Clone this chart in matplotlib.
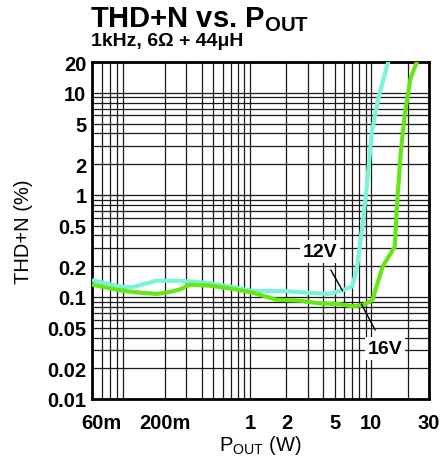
import matplotlib
matplotlib.use('Agg')
import matplotlib.pyplot as plt
import numpy as np

plt.rcParams['font.family'] = ['Liberation Sans', 'DejaVu Sans']
plt.rcParams['mathtext.fontset'] = 'custom'
plt.rcParams['mathtext.rm'] = 'Liberation Sans'
plt.rcParams['mathtext.bf'] = 'Liberation Sans:bold'

# data (POUT in W, THD+N in %)
p_12v = [0.05, 0.085, 0.109, 0.17, 0.264, 0.465, 0.72, 1.06, 2.0, 3.3, 4.5, 5.8, 7.0,
         7.7, 8.0, 8.5, 9.3, 10.1, 11.6, 14.1]
thd_12v = [0.146, 0.126, 0.125, 0.144, 0.144, 0.137, 0.125, 0.114, 0.114, 0.109, 0.107,
           0.116, 0.127, 0.206, 0.30, 0.52, 1.4, 4.1, 9.5, 22]

p_16v = [0.05, 0.085, 0.116, 0.17, 0.205, 0.264, 0.32, 0.465, 0.72, 1.06, 1.64, 2.56,
         3.73, 5.45, 7.0, 8.5, 10.2, 12.4, 15.6, 16.4, 17.5, 19.0, 21.1, 24.5]
thd_16v = [0.132, 0.116, 0.111, 0.107, 0.110, 0.118, 0.132, 0.129, 0.120, 0.110, 0.094,
           0.092, 0.0865, 0.085, 0.081, 0.083, 0.093, 0.198, 0.31, 0.885, 2.6, 6.5, 14, 22]

xticks = [0.06, 0.2, 1, 2, 5, 10, 30]
xticklabels = ['60m', '200m', '1', '2', '5', '10', '30']
yticks = [0.01, 0.02, 0.05, 0.1, 0.2, 0.5, 1, 2, 5, 10, 20]
yticklabels = ['0.01', '0.02', '0.05', '0.1', '0.2', '0.5', '1', '2', '5', '10', '20']

fig = plt.figure(figsize=(4.42, 4.64), dpi=100)
ax = fig.add_axes([0.208, 0.138, 0.763, 0.726])

ax.set_xscale('log')
ax.set_yscale('log')
ax.set_xlim(0.05, 30)
ax.set_ylim(0.01, 20)

ax.grid(True, which='both', color='#1a1a1a', linewidth=0.9)
ax.set_axisbelow(True)

ax.plot(p_12v, thd_12v, color='#78f5d6', linewidth=3, solid_capstyle='butt', zorder=3)
ax.plot(p_16v, thd_16v, color='#66e614', linewidth=3, solid_capstyle='butt', zorder=4)

ax.set_xticks(xticks)
ax.set_xticklabels(xticklabels)
ax.set_yticks(yticks)
ax.set_yticklabels(yticklabels)
ax.tick_params(which='both', length=0, labelsize=14.5)
ax.tick_params(axis='x', pad=10)
ax.tick_params(axis='y', pad=4)
for lab in ax.get_xticklabels() + ax.get_yticklabels():
    lab.set_fontweight('bold')

for s in ax.spines.values():
    s.set_linewidth(2)
    s.set_color('black')

ax.set_xlabel(r'P$_{\rm OUT}$ (W)', fontsize=14.5, labelpad=1)
ax.set_ylabel('THD+N (%)', fontsize=14.5, labelpad=10)

# curve labels with leader lines
box = dict(boxstyle='square,pad=0.15', fc='white', ec='none')
ax.annotate('12V', xy=(5.8, 0.115), xytext=(3.8, 0.28), fontsize=14, fontweight='bold',
            ha='center', va='center', bbox=box, zorder=5,
            arrowprops=dict(arrowstyle='-', color='black', lw=1, shrinkA=6, shrinkB=0))
ax.annotate('16V', xy=(8.3, 0.085), xytext=(13.0, 0.031), fontsize=14, fontweight='bold',
            ha='center', va='center', bbox=box, zorder=5,
            arrowprops=dict(arrowstyle='-', color='black', lw=1, shrinkA=6, shrinkB=0))

fig.text(0.204, 0.942, r'THD+N vs. P$_{\mathbf{OUT}}$', fontsize=21, fontweight='bold',
         ha='left', va='baseline')
fig.text(0.206, 0.9, '1kHz, 6Ω + 44μH', fontsize=14, fontweight='bold',
         ha='left', va='baseline')

fig.savefig('out.png', dpi=100)
